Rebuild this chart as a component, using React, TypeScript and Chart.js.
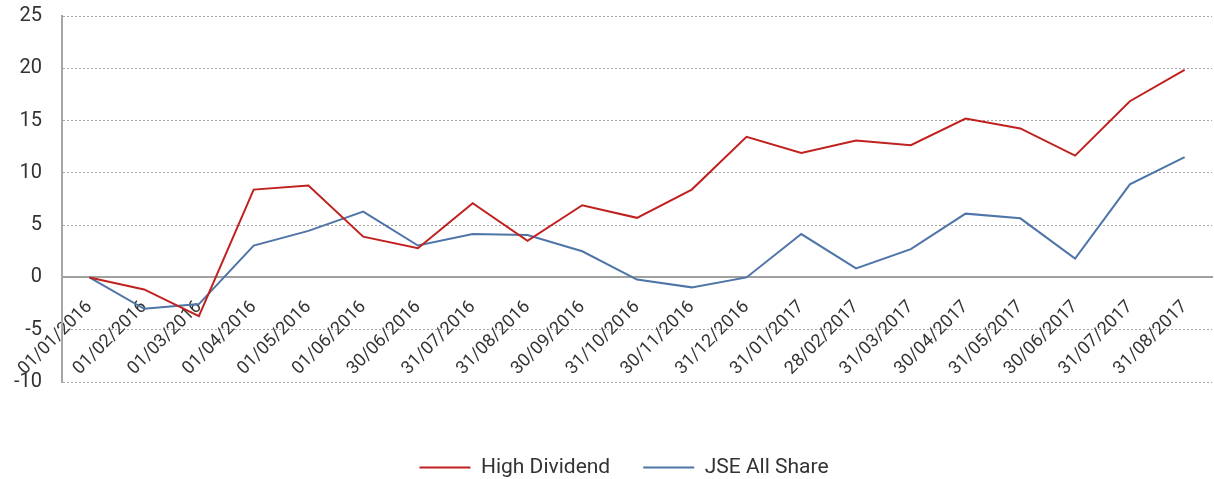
import React, { useEffect, useRef } from "react";
import { Chart, registerables } from "chart.js";

Chart.register(...registerables);

const categories = [
  "01/01/2016", "01/02/2016", "01/03/2016", "01/04/2016", "01/05/2016", "01/06/2016",
  "30/06/2016", "31/07/2016", "31/08/2016", "30/09/2016", "31/10/2016", "30/11/2016",
  "31/12/2016", "31/01/2017", "28/02/2017", "31/03/2017", "30/04/2017", "31/05/2017",
  "30/06/2017", "31/07/2017", "31/08/2017",
];

const highDividend = [
  0, -1.15, -3.7, 8.4, 8.8, 3.9, 2.8, 7.1, 3.5, 6.9, 5.7, 8.4,
  13.45, 11.9, 13.1, 12.65, 15.2, 14.25, 11.65, 16.85, 19.85,
];

const jseAllShare = [
  0, -3.0, -2.55, 3.05, 4.45, 6.3, 3.05, 4.15, 4.05, 2.5, -0.2, -0.95,
  0.0, 4.15, 0.86, 2.7, 6.1, 5.65, 1.8, 8.9, 11.5,
];

const seriesNames = ["High Dividend", "JSE All Share"];

const yMin = -10;
const yMax = 25;
const yStep = 5;

const legendShift = {
  id: "legendShift",
  afterLayout(chart: any) {
    const lg = chart.legend;
    if (lg) {
      lg.left += 18;
      lg.right += 18;
    }
  },
};

export default function App() {
  const ref = useRef<HTMLCanvasElement | null>(null);

  useEffect(() => {
    if (!ref.current) return;
    const font = "Roboto, 'Noto Sans', sans-serif";
    const chart = new Chart(ref.current, {
      type: "line",
      data: {
        labels: categories,
        datasets: [
          {
            label: seriesNames[0],
            data: highDividend,
            borderColor: "#C0211F",
            backgroundColor: "#C0211F",
            borderWidth: 2,
            pointRadius: 0,
            tension: 0,
          },
          {
            label: seriesNames[1],
            data: jseAllShare,
            borderColor: "#4E74A8",
            backgroundColor: "#4E74A8",
            borderWidth: 2,
            pointRadius: 0,
            tension: 0,
          },
        ],
      },
      plugins: [legendShift],
      options: {
        animation: false,
        responsive: false,
        layout: { autoPadding: false, padding: { left: 0, right: 2, top: 16, bottom: -9 } },
        plugins: {
          tooltip: { enabled: false },
          legend: {
            position: "bottom",
            labels: {
              usePointStyle: true,
              pointStyle: "line",
              pointStyleWidth: 51,
              padding: 33,
              color: "#333333",
              font: { family: font, size: 21 },
            },
          },
        },
        scales: {
          x: {
            type: "category",
            position: { y: 0 } as any,
            offset: true,
            grid: {
              display: true,
              drawOnChartArea: false,
              drawTicks: true,
              tickLength: 19,
              color: "rgba(0,0,0,0)",
              tickColor: "rgba(0,0,0,0)",
            },
            border: { display: true, color: "#A0A0A0", width: 2 },
            ticks: {
              autoSkip: false,
              maxRotation: 45,
              minRotation: 45,
              padding: 0,
              color: "#333333",
              font: { family: font, size: 18 },
            },
          },
          spacer: {
            type: "category",
            axis: "x",
            position: "bottom",
            display: true,
            grid: { display: false, drawTicks: false },
            border: { display: false },
            ticks: { display: false },
            afterFit: (s: any) => {
              s.height = 42;
            },
          } as any,
          y: {
            min: yMin,
            max: yMax,
            ticks: {
              stepSize: yStep,
              padding: 0,
              color: "#333333",
              font: { family: font, size: 20 },
            },
            grid: {
              color: "#A6A6A6",
              lineWidth: 1,
              drawTicks: true,
              tickLength: 20,
              tickColor: "rgba(0,0,0,0)",
            },
            border: { display: true, color: "#A6A6A6", width: 2, dash: [2, 2] },
            afterFit: (s: any) => {
              s.width = 62;
            },
          },
        },
      },
    });
    return () => chart.destroy();
  }, []);

  return (
    <div style={{ position: "absolute", left: 0, top: 0, width: 1214, height: 479 }}>
      <canvas ref={ref} width={1214} height={479} style={{ display: "block" }} />
    </div>
  );
}
